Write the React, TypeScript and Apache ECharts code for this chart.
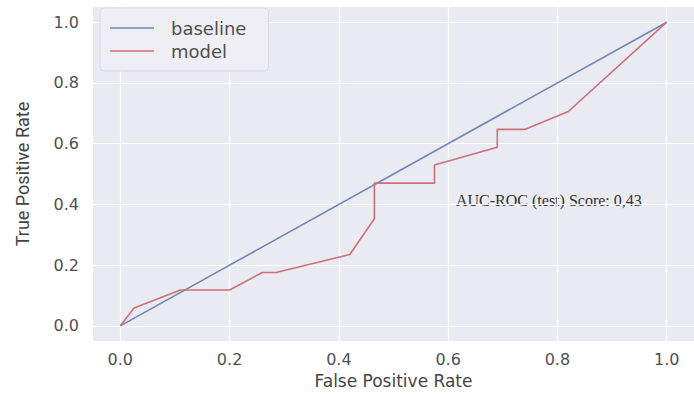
import React, { useEffect, useRef } from "react";
import * as echarts from "echarts";

const baselineFpr = [0, 1];
const baselineTpr = [0, 1];
const modelFpr = [0, 0.025, 0.11, 0.2, 0.26, 0.285, 0.42, 0.465, 0.465, 0.575, 0.575, 0.69, 0.69, 0.74, 0.82, 1];
const modelTpr = [0, 0.059, 0.118, 0.118, 0.176, 0.176, 0.235, 0.353, 0.47, 0.47, 0.53, 0.588, 0.647, 0.647, 0.706, 1];
const tickValues = [0, 0.2, 0.4, 0.6, 0.8, 1.0];
const seriesNames = ["baseline", "model"];
const annotation = "AUC-ROC (test) Score: 0,43";

export default function App() {
  const ref = useRef<HTMLDivElement>(null);
  useEffect(() => {
    if (!ref.current) return;
    const chart = echarts.init(ref.current, undefined, { renderer: "svg" });
    const tickFmt = (v: number) => v.toFixed(1);
    const labelStyle = {
      fontFamily: "DejaVu Sans",
      fontSize: 16,
      color: "#505050",
    };
    chart.setOption({
      animation: false,
      backgroundColor: "#ffffff",
      grid: { left: 93, right: -11, top: 7, bottom: 46, backgroundColor: "#eaeaf2", show: true, borderWidth: 0 },
      xAxis: {
        type: "value",
        min: -0.05,
        max: 1.05,
        name: "False Positive Rate",
        nameLocation: "middle",
        nameGap: 29,
        nameTextStyle: { fontFamily: "DejaVu Sans", fontSize: 17, color: "#444" },
        axisLine: { show: false },
        axisTick: { show: false, customValues: tickValues },
        axisLabel: { ...labelStyle, margin: 10, formatter: tickFmt, customValues: tickValues },
        splitLine: { show: true, lineStyle: { color: "#ffffff", width: 1.2 } },
      },
      yAxis: {
        type: "value",
        min: -0.05,
        max: 1.05,
        name: "True Positive Rate",
        nameLocation: "middle",
        nameGap: 62,
        nameRotate: 90,
        nameTextStyle: { fontFamily: "Roboto", fontSize: 18, color: "#444" },
        axisLine: { show: false },
        axisTick: { show: false, customValues: tickValues },
        axisLabel: { ...labelStyle, margin: 14, formatter: tickFmt, customValues: tickValues },
        splitLine: { show: true, lineStyle: { color: "#ffffff", width: 1.2 } },
      },
      legend: {
        left: 100,
        top: 8,
        orient: "vertical",
        data: seriesNames,
        icon: "rect",
        itemWidth: 44,
        itemHeight: 1.6,
        itemGap: 5,
        padding: [11, 22, 11, 10],
        backgroundColor: "#eeeef4",
        borderColor: "#d8d8e2",
        borderWidth: 1,
        borderRadius: 4,
        textStyle: { fontFamily: "DejaVu Sans", fontSize: 18, color: "#505050", padding: [0, 0, 0, 12] },
      },
      graphic: [
        {
          type: "text",
          x: 456,
          y: 192,
          style: {
            text: annotation,
            fontFamily: "Liberation Serif",
            fontSize: 16,
            fill: "#333",
          },
        },
      ],
      series: [
        {
          name: seriesNames[0],
          type: "line",
          symbol: "none",
          data: baselineFpr.map((x, i) => [x, baselineTpr[i]]),
          lineStyle: { color: "#7187b5", width: 1.6 },
          itemStyle: { color: "#7187b5" },
        },
        {
          name: seriesNames[1],
          type: "line",
          symbol: "none",
          data: modelFpr.map((x, i) => [x, modelTpr[i]]),
          lineStyle: { color: "#cc7078", width: 1.6 },
          itemStyle: { color: "#cc7078" },
        },
      ],
    });
    return () => chart.dispose();
  }, []);
  return <div ref={ref} style={{ width: 694, height: 394, position: "absolute", left: 0, top: 0 }} />;
}
